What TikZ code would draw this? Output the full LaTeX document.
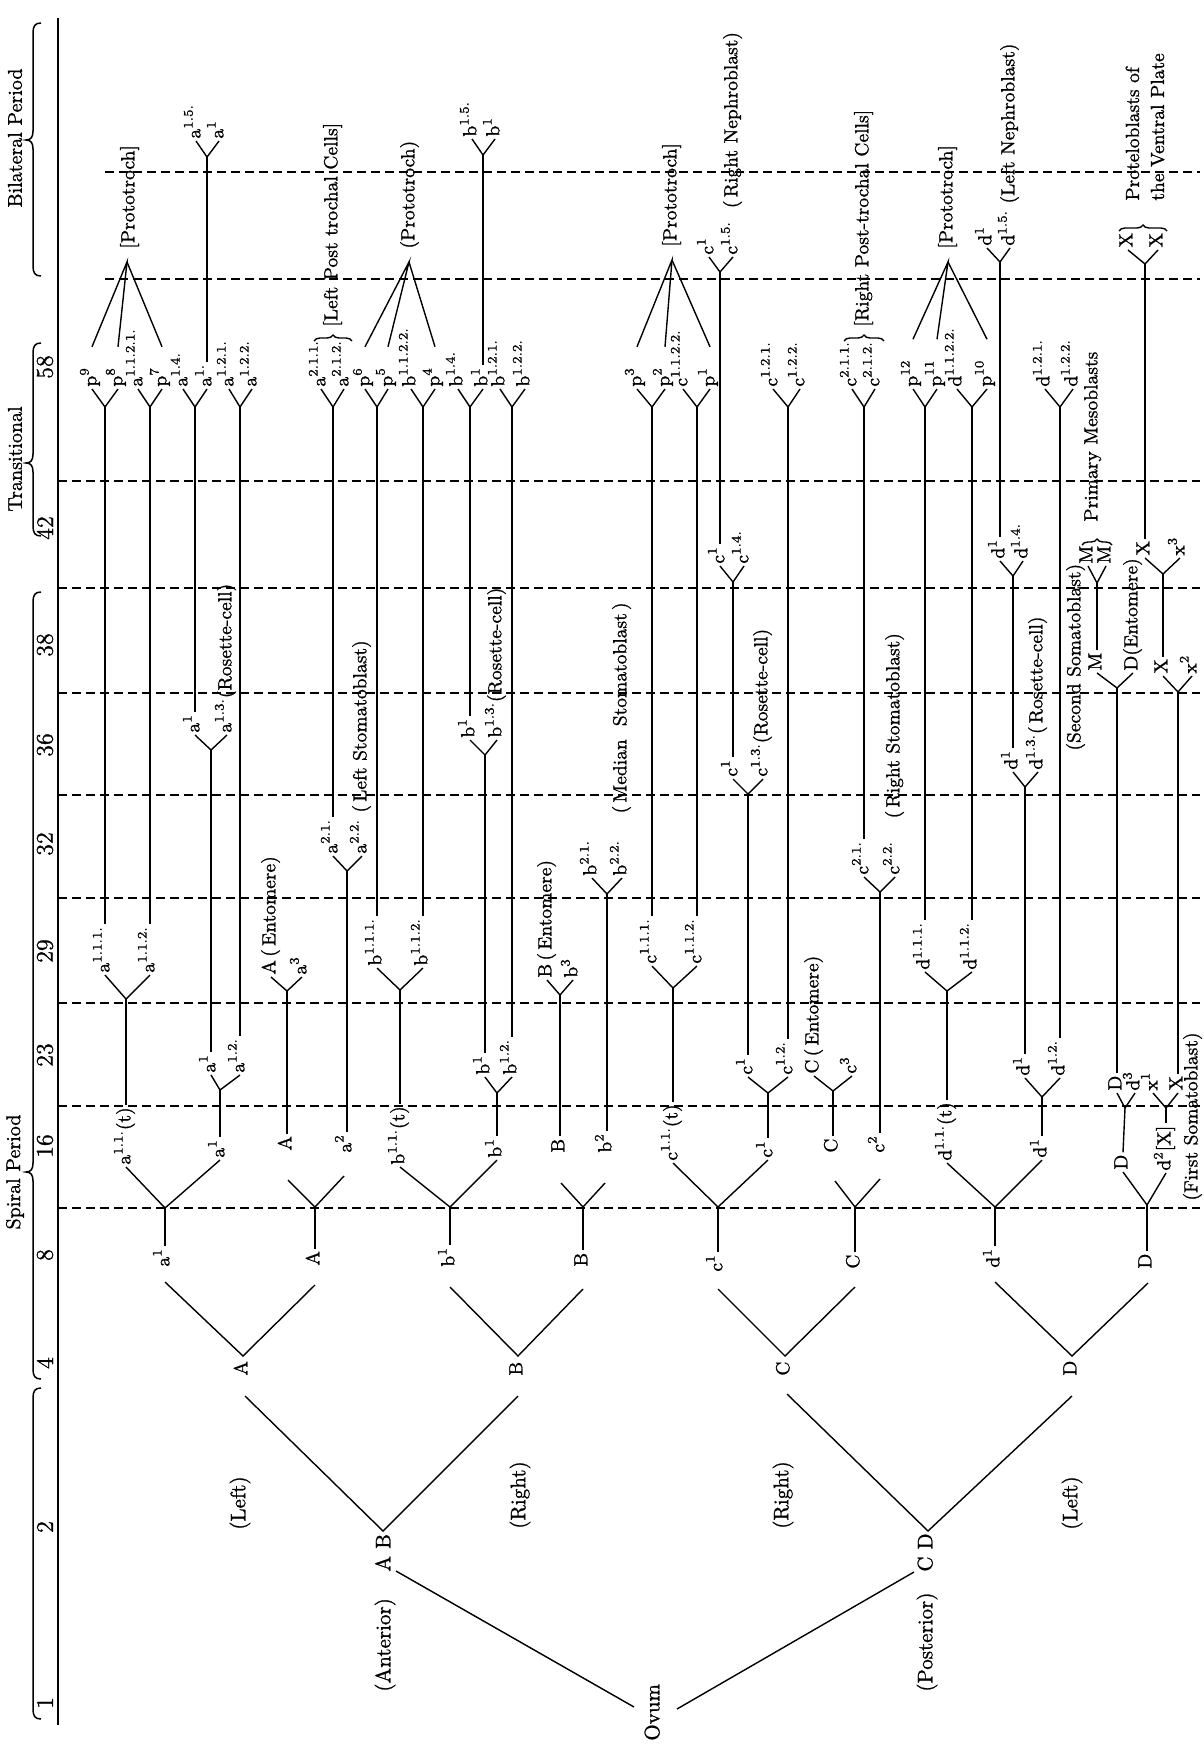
\documentclass[tikz,border=0pt]{standalone}
\usepackage{fontspec}
\setmainfont{Latin Modern Roman}[FakeBold=1]
\usetikzlibrary{calc,decorations.pathreplacing}
\newcommand\su[1]{\textsuperscript{#1}}
\newcommand\Yf[8]{%
  \coordinate (#1) at (#2,#3);
  \node[lab] (#1a) at (#4,#6) {#7};
  \node[lab] (#1b) at (#5,#6) {#8};
  \draw[ln] (#1a.west) -- (#1) -- (#1b.west);}
\newcommand\mybrace[3]{%
  \draw[br] (41,#1) .. controls (35,#1) and (33,{#1+3}) .. (33,{#1+10})
    -- (33,{#2-9}) .. controls (33,{#2-3}) and (31,#2) .. (26,#2)
    .. controls (31,#2) and (33,{#2+3}) .. (33,{#2+9})
    -- (33,{#3-10}) .. controls (33,{#3-3}) and (35,#3) .. (41,#3);}
\begin{document}
\begin{tikzpicture}[x=0.5pt,y=-0.5pt,
  lab/.style={rotate=90,anchor=west,inner sep=1pt,text height=1ex,text depth=0pt,font=\fontsize{9.5}{11}\selectfont},
  big/.style={lab,font=\fontsize{10.5}{12}\selectfont},
  side/.style={rotate=90,anchor=center,inner sep=0pt,font=\fontsize{10.5}{12}\selectfont},
  num/.style={rotate=90,anchor=center,inner sep=0pt,font=\fontsize{12}{14}\selectfont},
  per/.style={rotate=90,anchor=center,inner sep=0pt,font=\fontsize{10}{12}\selectfont},
  ln/.style={line width=0.7pt},
  dl/.style={line width=0.7pt,dash pattern=on 4.5pt off 2.5pt},
  br/.style={line width=0.75pt},
  cb/.style={line width=0.7pt,decorate,decoration={brace,amplitude=3pt}}]
\useasboundingbox (0,0) rectangle (1204,1756);
\fill[white] (0,0) rectangle (1204,1756);
% frame and period lines
\draw[ln] (58,18) -- (58,1725);
\foreach \yy in {172,279} {\draw[dl] (105,\yy) -- (1200,\yy);}
\foreach \yy in {481,588,693,795,898,1003,1106,1208} {\draw[dl] (58,\yy) -- (1200,\yy);}
% numbers
\node[num] (s58) at (45,367) {58};
\node[num] (s42) at (45,528) {42};
\node[num] (s38) at (45,645) {38};
\node[num] (s36) at (45,745) {36};
\node[num] (s32) at (45,844) {32};
\node[num] (s29) at (45,951) {29};
\node[num] (s23) at (45,1055) {23};
\node[num] (s16) at (45,1146) {16};
\node[num] (s8) at (45,1255) {8};
\node[num] (s4) at (45,1363) {4};
\node[num] (s2) at (45,1527) {2};
\node[num] (s1) at (45,1703) {1};
% periods
\node[per] (pB) at (15,138) {Bilateral Period};
\node[per] (pT) at (15,459) {Transitional};
\node[per] (pS) at (15,1172) {Spiral Period};
\mybrace{23}{140}{276}
\mybrace{343}{463}{536}
\mybrace{592}{1172}{1379}
\draw[br] (41,1388) .. controls (35,1388) and (33,1391) .. (33,1398) -- (33,1709) .. controls (33,1716) and (35,1719) .. (41,1719);
% ---------------- lower tree
\node[big] (ovum) at (655,1743) {Ovum};
\coordinate (ovL) at (634,1707);
\coordinate (ovR) at (677,1709);
\node[big] (AB) at (386,1574) {A B};
\node[big] (ant) at (386,1694) {(Anterior)};
\coordinate (ABin) at (396,1571);
\coordinate (ABap) at (383,1531);
\node[big] (CD) at (928,1574) {C D};
\node[big] (post) at (928,1694) {(Posterior)};
\coordinate (CDin) at (914,1572);
\coordinate (CDap) at (928,1531);
\draw[ln] (ABin) -- (ovL);
\draw[ln] (CDin) -- (ovR);
\node[side] (sL1) at (240,1503) {(Left)};
\node[side] (sR1) at (520,1495) {(Right)};
\node[side] (sR2) at (783,1495) {(Right)};
\node[side] (sL2) at (1072,1503) {(Left)};
% level 4
\node[lab] (A4) at (243,1378) {A};
\node[lab] (B4) at (518,1378) {B};
\node[lab] (C4) at (785,1378) {C};
\node[lab] (D4) at (1072,1378) {D};
\coordinate (A4in) at (245,1396); \coordinate (B4in) at (518,1396);
\coordinate (C4in) at (787,1394); \coordinate (D4in) at (1072,1396);
\draw[ln] (A4in) -- (ABap) -- (B4in);
\draw[ln] (C4in) -- (CDap) -- (D4in);
\coordinate (A4ap) at (243,1356); \coordinate (B4ap) at (518,1356);
\coordinate (C4ap) at (785,1356); \coordinate (D4ap) at (1072,1356);
% level 8
\node[lab] (a8) at (165,1269) {a\su{1}};
\node[lab] (A8) at (315,1268) {A};
\node[lab] (b8) at (450,1269) {b\su{1}};
\node[lab] (B8) at (583,1269) {B};
\node[lab] (c8) at (718,1274) {c\su{1}};
\node[lab] (C8) at (855,1271) {C};
\node[lab] (d8) at (995,1270) {d\su{1}};
\node[lab] (D8) at (1147,1271) {D};
\coordinate (a8in) at (165,1282); \coordinate (A8in) at (315,1285);
\coordinate (b8in) at (450,1287); \coordinate (B8in) at (583,1289);
\coordinate (c8in) at (718,1289); \coordinate (C8in) at (855,1287);
\coordinate (d8in) at (995,1282); \coordinate (D8in) at (1148,1283);
\draw[ln] (a8in) -- (A4ap) -- (A8in);
\draw[ln] (b8in) -- (B4ap) -- (B8in);
\draw[ln] (c8in) -- (C4ap) -- (C8in);
\draw[ln] (d8in) -- (D4ap) -- (D8in);
\coordinate (a8ap) at (165,1208); \coordinate (A8ap) at (315,1207);
\coordinate (b8ap) at (450,1207); \coordinate (B8ap) at (583,1207);
\coordinate (c8ap) at (718,1207); \coordinate (C8ap) at (855,1207);
\coordinate (d8ap) at (995,1207); \coordinate (D8ap) at (1147,1205);
\draw[ln] (a8.east) -- (a8ap); \draw[ln] (A8.east) -- (A8ap);
\draw[ln] (b8.east) -- (b8ap); \draw[ln] (B8.east) -- (B8ap);
\draw[ln] (c8.east) -- (c8ap); \draw[ln] (C8.east) -- (C8ap);
\draw[ln] (d8.east) -- (d8ap); \draw[ln] (D8.east) -- (D8ap);
% level 16
\node[lab] (a16t) at (126,1167) {a\su{1.1.}(t)};
\node[lab] (a16) at (220,1160) {a\su{1}};
\draw[ln] (a16t.west) -- (a8ap) -- (a16.west);
\node[lab] (A16) at (287,1153) {A};
\node[lab] (a216) at (347,1155) {a\su{2}};
\coordinate (A16in) at (288,1180); \coordinate (a216in) at (344,1176);
\draw[ln] (A16in) -- (A8ap) -- (a216in);
\node[lab] (b16t) at (400,1167) {b\su{1.1.}(t)};
\node[lab] (b16) at (497,1160) {b\su{1}};
\draw[ln] (b16t.west) -- (b8ap) -- (b16.west);
\node[lab] (B16) at (560,1155) {B};
\node[lab] (b216) at (607,1155) {b\su{2}};
\coordinate (B16in) at (561,1183); \coordinate (b216in) at (605,1183);
\draw[ln] (B16in) -- (B8ap) -- (b216in);
\node[lab] (c16t) at (673,1163) {c\su{1.1.}(t)};
\node[lab] (c16) at (768,1160) {c\su{1}};
\draw[ln] (c16t.west) -- (c8ap) -- (c16.west);
\node[lab] (C16) at (833,1155) {C};
\node[lab] (c216) at (880,1155) {c\su{2}};
\coordinate (C16in) at (835,1181); \coordinate (c216in) at (880,1179);
\draw[ln] (C16in) -- (C8ap) -- (c216in);
\node[lab] (d16t) at (947,1163) {d\su{1.1.}(t)};
\node[lab] (d16) at (1042,1160) {d\su{1}};
\draw[ln] (d16t.west) -- (d8ap) -- (d16.west);
\node[lab] (D16) at (1123,1172) {D};
\node[lab] (d216) at (1166,1173) {d\su{2}[X]};
\draw[ln] (D16.west) -- (D8ap) -- (d216.west);
% level 23
\Yf{Fa123}{220}{1090}{211}{240}{1075}{a\su{1}}{a\su{1.2.}}
\draw[ln] (a16.east) -- (Fa123);
\Yf{Fb123}{497}{1093}{485}{512}{1077}{b\su{1}}{b\su{1.2.}}
\draw[ln] (b16.east) -- (Fb123);
\Yf{Fc123}{768}{1093}{748}{788}{1077}{c\su{1}}{c\su{1.2.}}
\draw[ln] (c16.east) -- (Fc123);
\Yf{Fd123}{1042}{1097}{1025}{1060}{1078}{d\su{1}}{d\su{1.2.}}
\draw[ln] (d16.east) -- (Fd123);
\Yf{FC23}{833}{1091}{814}{852}{1076}{C\,(\,Entomere)}{c\su{3}}
\draw[ln] (C16.east) -- (FC23);
\Yf{FD23}{1125}{1108}{1117}{1135}{1093}{D}{d\su{3}}
\draw[ln] (D16.east) -- (FD23);
\Yf{Fx23}{1166}{1108}{1153}{1178}{1093}{x\su{1}}{X}
\draw[ln] (d216.east) -- (Fx23);
% level 29
\Yf{Fa11}{126}{999}{105}{150}{975}{a\su{1.1.1.}}{a\su{1.1.2.}}
\draw[ln] (a16t.east) -- (Fa11);
\Yf{FA}{287}{991}{271}{302}{977}{A\,(\,Entomere)}{a\su{3}}
\draw[ln] (A16.east) -- (FA);
\Yf{Fb11}{400}{990}{377}{423}{968}{b\su{1.1.1.}}{b\su{1.1.2.}}
\draw[ln] (b16t.east) -- (Fb11);
\Yf{FB}{560}{995}{547}{573}{980}{B\,(\,Entomere)}{b\su{3}}
\draw[ln] (B16.east) -- (FB);
\Yf{Fc11}{673}{988}{652}{697}{966}{c\su{1.1.1.}}{c\su{1.1.2.}}
\draw[ln] (c16t.east) -- (Fc11);
\Yf{Fd11}{947}{991}{925}{972}{972}{d\su{1.1.1.}}{d\su{1.1.2.}}
\draw[ln] (d16t.east) -- (Fd11);
% level 32
\Yf{Fa2}{347}{871}{333}{362}{856}{a\su{2.1.}}{a\su{2.2.}\ (\,Left Stomatoblast)}
\draw[ln] (a216.east) -- (Fa2);
\Yf{Fb2}{607}{894}{592}{622}{878}{b\su{2.1.}}{b\su{2.2.}\hspace{1.4em}(\,Median\ \ Stomatoblast\,)}
\draw[ln] (b216.east) -- (Fb2);
\Yf{Fc2}{880}{892}{864}{895}{877}{c\su{2.1.}}{c\su{2.2.}\hspace{1.2em}(\,Right Stomatoblast)}
\draw[ln] (c216.east) -- (Fc2);
% level 36
\Yf{Fa136}{211}{750}{195}{227}{735}{a\su{1}}{a\su{1.3.}(Rosette-cell)}
\draw[ln] (Fa123a.east) -- (Fa136);
\Yf{Fb136}{485}{755}{470}{497}{740}{b\su{1}}{b\su{1.3.}(Rosette-cell)}
\draw[ln] (Fb123a.east) -- (Fb136);
\Yf{Fc136}{748}{794}{733}{763}{779}{c\su{1}}{c\su{1.3.}(Rosette-cell)}
\draw[ln] (Fc123a.east) -- (Fc136);
\Yf{Fd136}{1025}{787}{1013}{1038}{772}{d\su{1}}{d\su{1.3.}(\,Rosette-cell)}
\draw[ln] (Fd123a.east) -- (Fd136);
% level 38
\Yf{FD38}{1117}{688}{1097}{1133}{673}{M}{D(Entomere)}
\draw[ln] (FD23a.east) -- (FD38);
\Yf{FX38}{1178}{692}{1163}{1192}{676}{X}{x\su{2}}
\draw[ln] (Fx23b.east) -- (FX38);
\node[lab] (ssom) at (1076,753) {(Second Somatoblast)};
\node[lab] (fsom) at (1193,1203) {(First Somatoblast)};
% level 42
\Yf{Fc14}{733}{582}{720}{744}{566}{c\su{1}}{c\su{1.4.}}
\draw[ln] (Fc136a.east) -- (Fc14);
\Yf{Fd14}{1013}{576}{1000}{1023}{561}{d\su{1}}{d\su{1.4.}}
\draw[ln] (Fd136a.east) -- (Fd14);
\Yf{FM2}{1097}{583}{1088}{1106}{566}{M}{M}
\draw[ln] (FD38a.east) -- (FM2);
\Yf{FX3}{1163}{574}{1145}{1180}{558}{X}{x\su{3}}
\draw[ln] (FX38a.east) -- (FX3);
\draw[cb] (1082,545) -- (1112,545);
\node[lab] (pmes) at (1093,524) {Primary Mesoblasts};
% level 58
\Yf{Fa111}{105}{407}{92}{118}{389}{p\su{9}}{p\su{8}}
\draw[ln] (Fa11a.east) -- (Fa111);
\Yf{Fa112}{150}{407}{138}{162}{389}{a\su{1.1.2.1.}}{p\su{7}}
\draw[ln] (Fa11b.east) -- (Fa112);
\Yf{Fa14}{195}{407}{183}{207}{389}{a\su{1.4.}}{a\su{1.}}
\draw[ln] (Fa136a.east) -- (Fa14);
\Yf{Fa12}{240}{407}{229}{252}{389}{a\su{1.2.1.}}{a\su{1.2.2.}}
\draw[ln] (Fa123b.east) -- (Fa12);
\Yf{Fa21}{333}{407}{321}{344}{389}{a\su{2.1.1.}}{a\su{2.1.2.}}
\draw[ln] (Fa2a.east) -- (Fa21);
\Yf{Fb111}{377}{407}{365}{388}{389}{p\su{6}}{p\su{5}}
\draw[ln] (Fb11a.east) -- (Fb111);
\Yf{Fb112}{423}{407}{411}{435}{389}{b\su{1.1.2.2.}}{p\su{4}}
\draw[ln] (Fb11b.east) -- (Fb112);
\Yf{Fb14}{470}{407}{458}{483}{389}{b\su{1.4.}}{b\su{1}}
\draw[ln] (Fb136a.east) -- (Fb14);
\Yf{Fb12}{512}{407}{500}{525}{389}{b\su{1.2.1.}}{b\su{1.2.2.}}
\draw[ln] (Fb123b.east) -- (Fb12);
\Yf{Fc111}{652}{407}{637}{665}{389}{p\su{3}}{p\su{2}}
\draw[ln] (Fc11a.east) -- (Fc111);
\Yf{Fc112}{697}{407}{683}{710}{389}{c\su{1.1.2.2.}}{p\su{1}}
\draw[ln] (Fc11b.east) -- (Fc112);
\Yf{Fc12}{788}{407}{773}{800}{389}{c\su{1.2.1.}}{c\su{1.2.2.}}
\draw[ln] (Fc123b.east) -- (Fc12);
\Yf{Fc21}{864}{407}{852}{875}{389}{c\su{2.1.1.}}{c\su{2.1.2.}}
\draw[ln] (Fc2a.east) -- (Fc21);
\Yf{Fd111}{925}{407}{913}{937}{389}{p\su{12}}{p\su{11}}
\draw[ln] (Fd11a.east) -- (Fd111);
\Yf{Fd112}{972}{407}{957}{987}{389}{d\su{1.1.2.2.}}{p\su{10}}
\draw[ln] (Fd11b.east) -- (Fd112);
\Yf{Fd12}{1060}{407}{1045}{1073}{389}{d\su{1.2.1.}}{d\su{1.2.2.}}
\draw[ln] (Fd123b.east) -- (Fd12);
% post-trochal groups
\draw[cb] (314,341) -- (352,341);
\node[lab] (lptc) at (333,329) {[Left Post trochal Cells]};
\draw[cb] (844,341) -- (884,341);
\node[lab] (rptc) at (864,329) {[Right Post-trochal Cells]};
% prototroch fans
\coordinate (fanA) at (127,262);
\node[lab] (protA) at (130,251) {[Prototroch]};
\draw[ln] ($(Fa111a.east)+(0,-18)$) -- (fanA) -- ($(Fa111b.east)+(0,-18)$);
\draw[ln] (fanA) -- ($(Fa112b.east)+(0,-18)$);
\coordinate (fanB) at (409,262);
\node[lab] (protB) at (410,251) {(Prototroch)};
\draw[ln] ($(Fb111a.east)+(0,-18)$) -- (fanB) -- ($(Fb111b.east)+(0,-18)$);
\draw[ln] (fanB) -- ($(Fb112b.east)+(0,-18)$);
\coordinate (fanC) at (672,260);
\node[lab] (protC) at (672,249) {[Prototroch]};
\draw[ln] ($(Fc111a.east)+(0,-18)$) -- (fanC) -- ($(Fc111b.east)+(0,-18)$);
\draw[ln] (fanC) -- ($(Fc112b.east)+(0,-18)$);
\coordinate (fanD) at (948,262);
\node[lab] (protD) at (948,251) {[Prototroch]};
\draw[ln] ($(Fd111a.east)+(0,-18)$) -- (fanD) -- ($(Fd111b.east)+(0,-18)$);
\draw[ln] (fanD) -- ($(Fd112b.east)+(0,-18)$);
% bilateral period
\Yf{Fa15}{207}{157}{196}{219}{141}{a\su{1.5.}}{a\su{1}}
\draw[ln] (Fa14b.east) -- (Fa15);
\Yf{Fb15}{483}{155}{472}{495}{139}{b\su{1.5.}}{b\su{1}}
\draw[ln] (Fb14b.east) -- (Fb15);
\Yf{Fc15}{720}{272}{709}{733}{257}{c\su{1}}{c\su{1.5.}\ \ (\,Right Nephroblast)}
\draw[ln] (Fc14a.east) -- (Fc15);
\Yf{Fd15}{1000}{262}{987}{1010}{248}{d\su{1}}{d\su{1.5.}\ (Left Nephroblast)}
\draw[ln] (Fd14a.east) -- (Fd15);
\Yf{FX2}{1145}{264}{1128}{1158}{250}{X}{X}
\draw[ln] (FX3a.east) -- (FX2);
\draw[cb] (1119,231) -- (1167,231);
\node[rotate=90,anchor=west,align=left,inner sep=1pt,font=\fontsize{9.5}{12.5}\selectfont] (ptvp) at (1145,203) {Proteloblasts of\\the Ventral Plate};
\end{tikzpicture}
\end{document}
